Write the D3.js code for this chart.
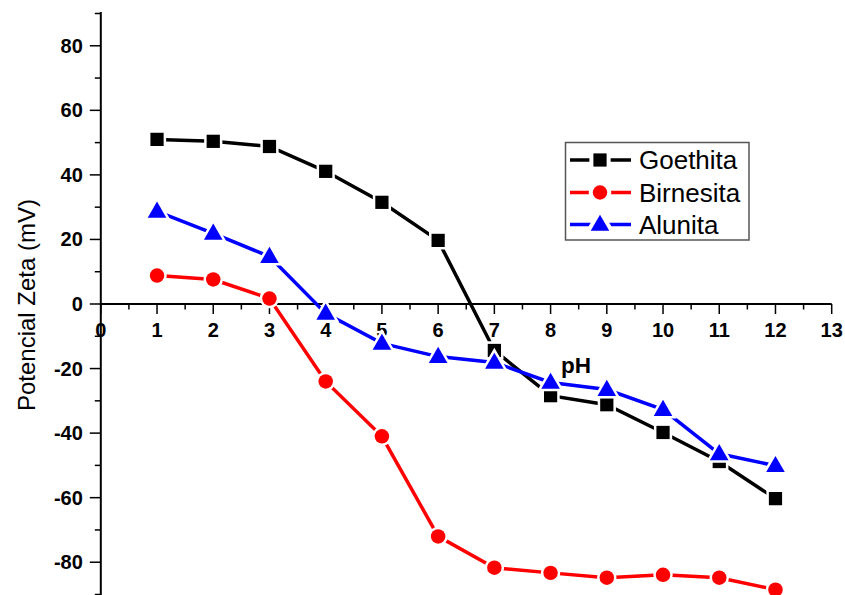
<!DOCTYPE html>
<html>
<head>
<meta charset="utf-8">
<script src="https://cdn.jsdelivr.net/npm/d3@7"></script>
<style>
html,body{margin:0;padding:0;background:#fff;}
svg{display:block;}
text{font-family:"Liberation Sans",Arial,sans-serif;}
</style>
</head>
<body>
<svg id="chart" width="845" height="595"></svg>
<script>
const pH = [1,2,3,4,5,6,7,8,9,10,11,12];
const goethita  = [51.0, 50.4, 48.8, 41.1, 31.5, 19.7, -14.4, -28.4, -31.2, -39.8, -48.8, -60.3];
const birnesita = [8.8, 7.6, 1.7, -24.0, -41.0, -72.0, -81.7, -83.3, -84.8, -83.9, -84.8, -88.5];
const alunita   = [28.7, 21.9, 14.7, -2.9, -12.2, -16.3, -18.1, -24.3, -26.5, -32.7, -46.4, -50.1];
const seriesNames = ["Goethita","Birnesita","Alunita"];
const xTicks = [0,1,2,3,4,5,6,7,8,9,10,11,12,13];
const yTicks = [-80,-60,-40,-20,0,20,40,60,80];
const xTitle = "pH";
const yTitle = "Potencial Zeta (mV)";

const svg = d3.select("#chart");
const x = d3.scaleLinear().domain([0,13]).range([100.8,831.7]);
const y = d3.scaleLinear().domain([-90,90]).range([594.5,13.5]);

const series = [
  {name: seriesNames[0], values: goethita,  color:"#000000", shape:d3.symbolSquare,   size:175},
  {name: seriesNames[1], values: birnesita, color:"#ff0000", shape:d3.symbolCircle,   size:165},
  {name: seriesNames[2], values: alunita,   color:"#0000ff", shape:d3.symbolTriangle, size:150}
];

// X axis at y=0
const xAxis = svg.append("g").attr("transform", `translate(0,${y(0)})`);
xAxis.append("line").attr("x1", x(0)).attr("x2", x(13)).attr("stroke","#000").attr("stroke-width",2);
xAxis.selectAll(".xmaj").data(xTicks).enter().append("line")
  .attr("x1", d=>x(d)).attr("x2", d=>x(d)).attr("y1",0).attr("y2",10)
  .attr("stroke","#000").attr("stroke-width",1.5);
xAxis.selectAll(".xmin").data(d3.range(0.5,13,1)).enter().append("line")
  .attr("x1", d=>x(d)).attr("x2", d=>x(d)).attr("y1",0).attr("y2",5.5)
  .attr("stroke","#000").attr("stroke-width",1.5);
xAxis.selectAll(".xlab").data(xTicks).enter().append("text")
  .attr("x", d=>x(d)).attr("y", 33).attr("text-anchor","middle")
  .attr("font-size","20px").attr("font-weight","bold").text(d=>d);

// Y axis
const yAxis = svg.append("g").attr("transform", `translate(${x(0)},0)`);
yAxis.append("line").attr("y1", 12).attr("y2", 595).attr("stroke","#000").attr("stroke-width",2);
yAxis.selectAll(".ymaj").data(yTicks).enter().append("line")
  .attr("y1", d=>y(d)).attr("y2", d=>y(d)).attr("x1",0).attr("x2",-11)
  .attr("stroke","#000").attr("stroke-width",1.5);
yAxis.selectAll(".ymin").data(d3.range(-90,91,20)).enter().append("line")
  .attr("y1", d=>y(d)).attr("y2", d=>y(d)).attr("x1",0).attr("x2",-6)
  .attr("stroke","#000").attr("stroke-width",1.5);
yAxis.selectAll(".ylab").data(yTicks).enter().append("text")
  .attr("x", -18).attr("y", d=>y(d)+7).attr("text-anchor","end")
  .attr("font-size","20px").attr("font-weight","bold").text(d=>d);

// Titles
svg.append("text").attr("x",561).attr("y",373).attr("font-size","22.5px").attr("font-weight","bold").text(xTitle);
svg.append("text").attr("transform","translate(35,305) rotate(-90)").attr("text-anchor","middle")
  .attr("font-size","24px").text(yTitle);

// Series
const line = d3.line().x((d,i)=>x(pH[i])).y(d=>y(d));
series.forEach(s=>{
  const g = svg.append("g");
  g.append("path").attr("d", line(s.values)).attr("fill","none").attr("stroke",s.color).attr("stroke-width",3.5);
  g.selectAll("path.m").data(s.values).enter().append("path").attr("class","m")
    .attr("d", d3.symbol().type(s.shape).size(s.size)())
    .attr("transform",(d,i)=>`translate(${x(pH[i])},${y(d) + (s.shape===d3.symbolTriangle?1:0)})`)
    .attr("fill",s.color).attr("stroke","#fff").attr("stroke-width",5).attr("paint-order","stroke");
});

// Legend
const lg = svg.append("g");
lg.append("rect").attr("x",565.5).attr("y",142.5).attr("width",183.5).attr("height",97.5)
  .attr("fill","#fff").attr("stroke","#555").attr("stroke-width",1.5);
const rows = [160,192.5,224.5];
series.forEach((s,i)=>{
  const ry = rows[i];
  lg.append("line").attr("x1",570).attr("x2",631).attr("y1",ry).attr("y2",ry).attr("stroke",s.color).attr("stroke-width",3.5);
  lg.append("path").attr("d", d3.symbol().type(s.shape).size(s.size)())
    .attr("transform",`translate(600,${ry + (s.shape===d3.symbolTriangle?1:0)})`)
    .attr("fill",s.color).attr("stroke","#fff").attr("stroke-width",8).attr("paint-order","stroke");
  lg.append("text").attr("x",639).attr("y",ry+9).attr("font-size","26px").text(s.name);
});
</script>
</body>
</html>
